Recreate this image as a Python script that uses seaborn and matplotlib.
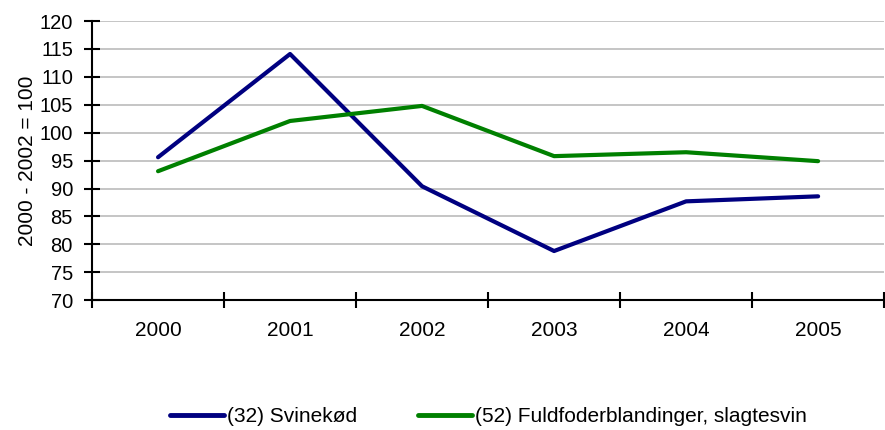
import pandas as pd
import matplotlib.pyplot as plt
import seaborn as sns

# Index values (2000 - 2002 = 100)
years = ["2000", "2001", "2002", "2003", "2004", "2005"]
svinekoed = [95.6, 114.1, 90.4, 78.8, 87.7, 88.6]
fuldfoder = [93.1, 102.1, 104.8, 95.8, 96.5, 94.9]
series_names = ["(32) Svinekød", "(52) Fuldfoderblandinger, slagtesvin"]
colors = ["#000080", "#008000"]

df = pd.DataFrame({
    "year": years * 2,
    "pos": list(range(len(years))) * 2,
    "value": svinekoed + fuldfoder,
    "series": [series_names[0]] * len(years) + [series_names[1]] * len(years),
})

sns.set_style("white")
plt.rcParams["font.family"] = ["Liberation Sans", "DejaVu Sans"]
plt.rcParams["text.color"] = "black"
plt.rcParams["axes.labelcolor"] = "black"
plt.rcParams["xtick.color"] = "black"
plt.rcParams["ytick.color"] = "black"

fig = plt.figure(figsize=(8.85, 4.30), dpi=100)
ax = fig.add_axes([0.104, 0.302, 0.895, 0.649])

sns.lineplot(data=df, x="pos", y="value", hue="series", palette=colors,
             linewidth=3.0, ax=ax, legend=False)

ax.set_ylim(70, 120)
ax.set_xlim(-0.5, len(years) - 0.5)
ax.set_yticks(range(70, 121, 5))
ax.yaxis.grid(True, color="#c0c0c0", linewidth=1.3)
ax.set_axisbelow(True)

# category labels at centres, tick marks at the boundaries
ax.set_xticks(range(len(years)))
ax.set_xticklabels(years)
ax.set_xticks([i - 0.5 for i in range(len(years) + 1)], minor=True)
ax.tick_params(axis="x", which="major", bottom=False, length=0, pad=15, labelsize=15)
ax.tick_params(axis="x", which="minor", bottom=True, direction="inout", length=11.5, width=1.5)
ax.tick_params(axis="y", left=True, direction="inout", length=11.5, width=1.5, labelsize=14.5, pad=8)

for side in ["top", "right"]:
    ax.spines[side].set_visible(False)
for side in ["left", "bottom"]:
    ax.spines[side].set_color("black")
    ax.spines[side].set_linewidth(1.5)

ax.set_xlabel("")
ax.set_ylabel("2000 - 2002 = 100", fontsize=15, labelpad=2)

handles = [plt.Line2D([], [], color=c, linewidth=3.5) for c in colors]
fig.legend(handles, series_names, loc="lower center", bbox_to_anchor=(0.552, -0.035),
           ncol=2, frameon=False, fontsize=15, handlelength=2.6,
           handletextpad=0.15, columnspacing=2.9)

fig.savefig("out.png", dpi=100)
